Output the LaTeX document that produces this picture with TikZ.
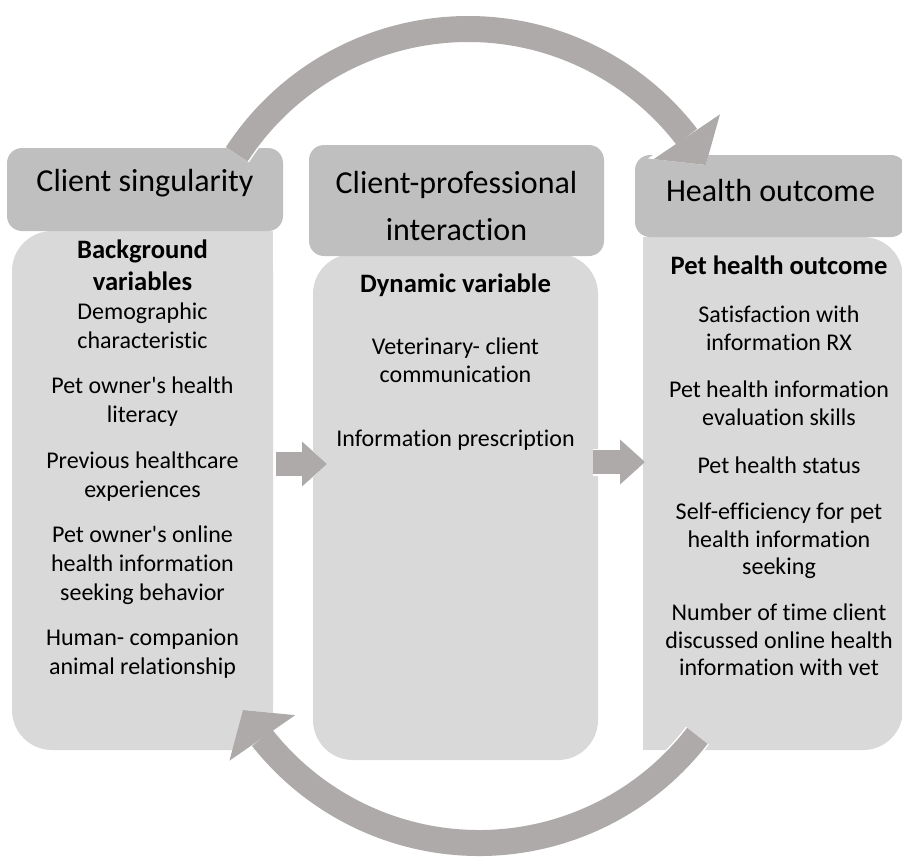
\documentclass[tikz,border=0pt]{standalone}
\usepackage{fontspec}
\setmainfont{Carlito}[Ligatures={TeX,NoCommon}]
\usetikzlibrary{positioning, fit, arrows.meta, bending}

\definecolor{headgray}{HTML}{BFBFBF}
\definecolor{panelgray}{HTML}{D9D9D9}
\definecolor{arrowgray}{HTML}{AEAAAA}

\newcommand\varhead[1]{{\fontsize{13.3}{14.5}\selectfont\bfseries #1}}

\begin{document}
\begin{tikzpicture}[
        x=0.5pt, y=-0.5pt,
        header/.style={fill=headgray, rounded corners=7.5pt, inner sep=0pt, outer sep=0pt},
        panel/.style={fill=panelgray, rounded corners=20pt, inner sep=0pt, outer sep=0pt},
        heading/.style={font=\fontsize{16}{23.5}\selectfont, align=center, inner sep=0pt},
        items/.style={font=\fontsize{12}{13.8}\selectfont, align=center, inner sep=0pt, anchor=north},
        flow/.style={arrowgray, line width=12pt,
            -{Triangle[width=22.5pt, length=12.5pt, line width=0pt]},
            preaction={draw=white, line width=13.5pt,
                -{Triangle[width=26pt, length=14pt, line width=0pt]}}},
        loopback/.style={arrowgray, line width=13pt,
            -{Triangle[width=40pt, length=17pt, line width=0pt]},
            preaction={draw=white, line width=14.5pt,
                -{Triangle[width=44pt, length=19pt, line width=0pt]}}}
        ]
        \path[use as bounding box] (0,0) rectangle (902,859);
        \clip (0,0) rectangle (902,859);

        % Panels
        \node[panel, fit={(12,231) (273,750)}] (singbody) {};
        \node[panel, fit={(313,254) (598,760)}] (interbody) {};
        \node[panel, fit={(643,237) (903,750)}] (outbody) {};
        \fill[panelgray] (singbody.north) rectangle (singbody.south east);
        \fill[panelgray] (outbody.north west) rectangle (outbody.south);

        % Headers
        \node[header, fit={(7,148) (283,231)}] (singhead) {};
        \node[header, fit={(309,145) (604,256)}] (interhead) {};
        \node[header, fit={(635,155) (906,237)}] (outhead) {};

        \node[heading] (singtitle) at ([yshift=3pt]singhead.center) {Client singularity};
        \node[heading] (intertitle) at ([yshift=-2.5pt]interhead.center) {Client-professional\\interaction};
        \node[heading] (outtitle) at ([yshift=3pt]outhead.center) {Health outcome};

        % Arrows
        \coordinate (rowa) at (0,464);
        \coordinate (rowb) at (0,462);
        \draw[flow, shorten <=1.5pt, shorten >=-7pt] (singbody.east |- rowa) -- (interbody.west |- rowa);
        \draw[flow, shorten <=-2.5pt, shorten >=-1pt] (interbody.east |- rowb) -- (outbody.west |- rowb);

        \coordinate (toptail) at (236.8,154.3);
        \coordinate (bottail) at (697.4,735.8);
        \draw[loopback] (toptail) arc[start angle=213.1, end angle=329.5, radius=276];
        \draw[loopback] (bottail) arc[start angle=37.7, end angle=148.8, radius=276];

        % Texts
        \node[items, below=4pt of singbody.north, font=\fontsize{12}{14.5}\selectfont] (singtext)
            {\varhead{Background}\\[1.5pt]\varhead{variables}\\Demographic\\characteristic\\[8pt]
             Pet owner\textquotesingle s health\\literacy\\[8.5pt]
             Previous healthcare\\experiences\\[8pt]
             Pet owner\textquotesingle s online\\health information\\seeking behavior\\[8pt]
             Human- companion\\animal relationship};
        \node[items, below=9.5pt of interbody.north] (intertext)
            {\varhead{Dynamic variable}\\[17.5pt]
             Veterinary- client\\communication\\[18.5pt]
             Information prescription};
        \node[items, below=9pt of outbody.north, xshift=3pt] (outtext)
            {\varhead{Pet health outcome}\\[10.5pt]
             Satisfaction with\\information RX\\[10pt]
             Pet health information\\evaluation skills\\[10pt]
             Pet health status\\[9.5pt]
             Self-efficiency for pet\\health information\\seeking\\[9pt]
             Number of time client\\discussed online health\\information with vet};
\end{tikzpicture}
\end{document}
